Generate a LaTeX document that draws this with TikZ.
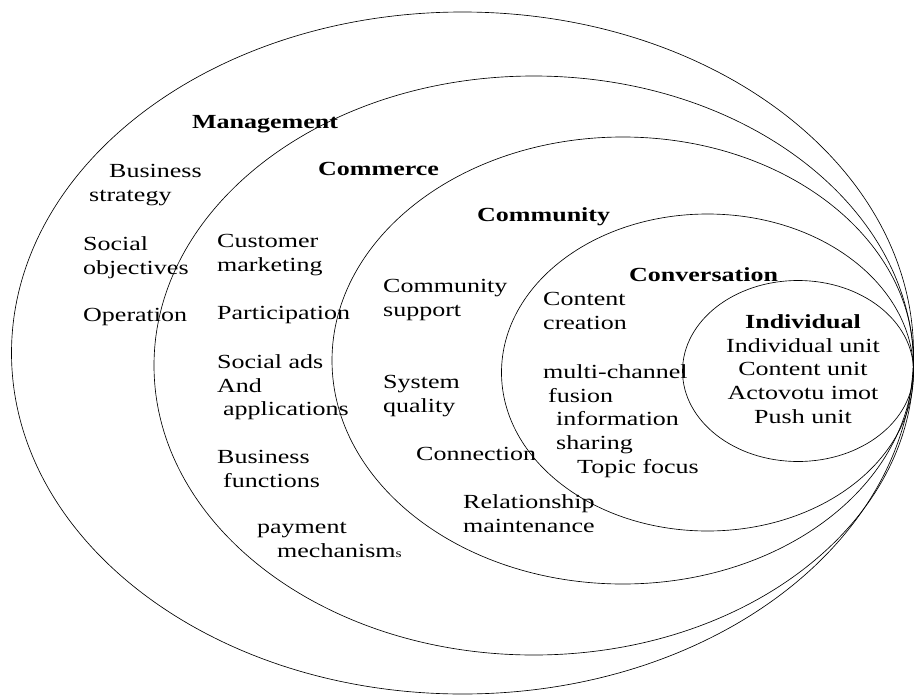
\documentclass[tikz,border=0pt]{standalone}
\usepackage{fontspec}
\setmainfont[FakeStretch=1.3]{Liberation Serif}
\begin{document}
\begin{tikzpicture}[x=1pt,y=-1pt,
  ring/.style={draw,line width=0.65pt},
  item/.style={anchor=north west,inner sep=0pt,align=left,font=\fontsize{20}{23.7}\selectfont},
  head/.style={item,font=\fontsize{20}{23.7}\selectfont\bfseries}]
\useasboundingbox (0,0) rectangle (915,696);

% nested layers, all meeting on the right
\draw[ring] (462.5,353) ellipse [x radius=451, y radius=341];
\draw[ring] (533.75,365.5) ellipse [x radius=379.75, y radius=289.5];
\draw[ring] (622.75,360.5) ellipse [x radius=290.75, y radius=223.5];
\draw[ring] (707.5,372.5) ellipse [x radius=206, y radius=158.5];
\draw[ring] (798,371) ellipse [x radius=115.5, y radius=90.5];

% management layer
\node(mgmt) at (192,115.5)[head] {Management};
\node(strategy) at (89,164.5)[item] {\hspace*{20pt}Business\\strategy};
\node(objectives) at (83,236.5)[item] {Social\\objectives};
\node(operation) at (83,308.5)[item] {Operation};

% commerce layer
\node(comm) at (318,162.5)[head] {Commerce};
\node(marketing) at (217,234.5)[item] {Customer\\marketing};
\node(participation) at (217,306.5)[item] {Participation};
\node(ads) at (217,354.5)[item] {Social ads\\And\\\hspace*{6pt}applications};
\node(functions) at (217,450.5)[item] {Business\\\hspace*{6pt}functions};
\node(payment) at (257,522.5)[item] {payment\\\hspace*{20pt}mechanism{\fontsize{12}{12}\selectfont s}};

% community layer
\node(cmty) at (477,207.5)[head] {Community};
\node(support) at (383,279.5)[item] {Community\\support};
\node(quality) at (383,375.5)[item] {System\\quality};
\node(connection) at (416,447.5)[item] {Connection};
\node(maintenance) at (463,494.5)[item] {Relationship\\maintenance};

% conversation layer
\node(conv) at (629,267.5)[head] {Conversation};
\node(creation) at (543,292.5)[item] {Content\\creation};
\node(fusion) at (543,364.5)[item] {multi-channel\\\hspace*{5pt}fusion\\\hspace*{13pt}information\\\hspace*{13pt}sharing};
\node(topic) at (577,459.5)[item] {Topic focus};

% individual core
\node(indiv) at (803,314.5)[item,anchor=north,align=center]
  {\textbf{Individual}\\Individual unit\\Content unit\\Actovotu imot\\Push unit};
\end{tikzpicture}
\end{document}
